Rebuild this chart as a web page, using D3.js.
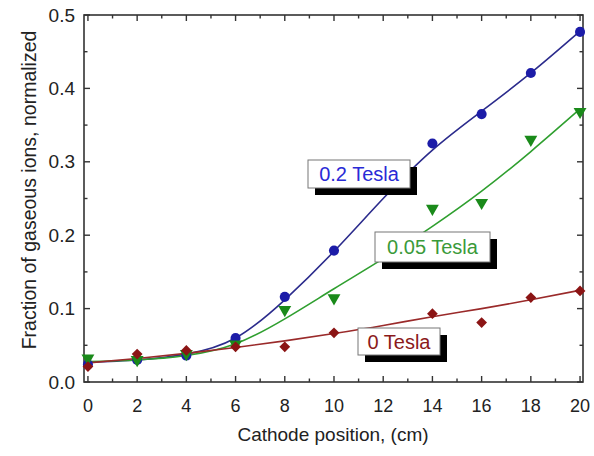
<!DOCTYPE html>
<html><head><meta charset="utf-8">
<script src="https://cdn.jsdelivr.net/npm/d3@7"></script>
<style>body{margin:0;background:#fff}svg{display:block}text{font-family:"Liberation Sans",Arial,sans-serif}</style>
</head><body><svg id="c" width="594" height="456"></svg>
<script>
// Data
const xPos = [0, 2, 4, 6, 8, 10, 14, 16, 18, 20];
const tesla02 = [0.024, 0.030, 0.036, 0.060, 0.116, 0.179, 0.325, 0.365, 0.421, 0.477];
const tesla005 = [0.031, 0.029, 0.037, 0.050, 0.097, 0.113, 0.235, 0.243, 0.329, 0.367];
const tesla0 = [0.021, 0.038, 0.043, 0.048, 0.048, 0.067, 0.093, 0.081, 0.115, 0.124];
const fitX = [0, 2, 4, 6, 8, 10, 12, 14, 16, 18, 20];
const fit02 = [0.027, 0.030, 0.038, 0.060, 0.112, 0.178, 0.250, 0.316, 0.369, 0.421, 0.478];
const fit005 = [0.028, 0.030, 0.036, 0.052, 0.086, 0.127, 0.168, 0.212, 0.260, 0.314, 0.372];
const fit0 = [0.026, 0.032, 0.039, 0.047, 0.056, 0.066, 0.077, 0.089, 0.100, 0.112, 0.125];
const xTicks = [0, 2, 4, 6, 8, 10, 12, 14, 16, 18, 20];
const yTicks = [0.0, 0.1, 0.2, 0.3, 0.4, 0.5];
const seriesNames = ["0.2 Tesla", "0.05 Tesla", "0 Tesla"];

const svg = d3.select("#c");
const L = 84, R = 583, T = 15, B = 382;
const x = d3.scaleLinear().domain([-0.16, 20.12]).range([L, R]);
const y = d3.scaleLinear().domain([0, 0.5]).range([B, T]);

const series = [
  {name: seriesNames[0], pts: tesla02, fit: fit02, pc: "#1c1ca8", lc: "#2b2b8c", tc: "#2a2ad6", sym: d3.symbolCircle, size: 80, rot: 0, dy: 0,
   box: {x: 308, y: 160, w: 102, h: 28}},
  {name: seriesNames[1], pts: tesla005, fit: fit005, pc: "#1a8a1a", lc: "#2f9f2f", tc: "#3a9a3a", sym: d3.symbolTriangle, size: 72, rot: 180, dy: -1,
   box: {x: 375, y: 232, w: 115, h: 30}},
  {name: seriesNames[2], pts: tesla0, fit: fit0, pc: "#8b1414", lc: "#9a2a2a", tc: "#8b1a1a", sym: d3.symbolSquare, size: 58, rot: 45, dy: 0,
   box: {x: 358, y: 328, w: 82, h: 27}}
];

// frame
svg.append("rect").attr("x", L).attr("y", T).attr("width", R - L).attr("height", B - T)
  .attr("fill", "none").attr("stroke", "#333").attr("stroke-width", 1.6);

// ticks
const minorX = d3.range(0, 21, 1);
const minorY = d3.range(0, 0.501, 0.05);
const tk = svg.append("g").attr("stroke", "#333").attr("stroke-width", 1.4);
minorX.forEach(v => {
  const len = v % 2 === 0 ? 6 : 3.5;
  tk.append("line").attr("x1", x(v)).attr("x2", x(v)).attr("y1", B).attr("y2", B - len);
  tk.append("line").attr("x1", x(v)).attr("x2", x(v)).attr("y1", T).attr("y2", T + len);
});
minorY.forEach((v, i) => {
  const len = i % 2 === 0 ? 6 : 3.5;
  tk.append("line").attr("x1", L).attr("x2", L + len).attr("y1", y(v)).attr("y2", y(v));
  tk.append("line").attr("x1", R).attr("x2", R - len).attr("y1", y(v)).attr("y2", y(v));
});

// tick labels
svg.append("g").selectAll("text").data(xTicks).join("text")
  .attr("x", d => x(d)).attr("y", 412).attr("text-anchor", "middle")
  .attr("font-size", 18).attr("fill", "#222").text(d => d);
svg.append("g").selectAll("text").data(yTicks).join("text")
  .attr("x", 75).attr("y", d => y(d) + 6.5).attr("text-anchor", "end")
  .attr("font-size", 19).attr("fill", "#222").text(d => d.toFixed(1));

// axis titles
svg.append("text").attr("x", 333).attr("y", 441).attr("text-anchor", "middle")
  .attr("font-size", 19).attr("fill", "#222").text("Cathode position, (cm)");
svg.append("text").attr("transform", "translate(36,190) rotate(-90)")
  .attr("text-anchor", "middle").attr("font-size", 19.5).attr("fill", "#222")
  .text("Fraction of gaseous ions, normalized");

// curves
const line = d3.line().x((d, i) => x(fitX[i])).y(d => y(d)).curve(d3.curveNatural);
series.forEach(s => {
  svg.append("path").attr("d", line(s.fit)).attr("fill", "none")
    .attr("stroke", s.lc).attr("stroke-width", 1.6);
});

// points
series.forEach(s => {
  svg.append("g").selectAll("path").data(s.pts).join("path")
    .attr("d", d3.symbol().type(s.sym).size(s.size))
    .attr("transform", (d, i) => `translate(${x(xPos[i])},${y(d) + s.dy}) rotate(${s.rot})`)
    .attr("fill", s.pc);
});

// labels
series.forEach(s => {
  const b = s.box;
  svg.append("rect").attr("x", b.x + 7).attr("y", b.y + 7).attr("width", b.w).attr("height", b.h).attr("fill", "#000");
  svg.append("rect").attr("x", b.x).attr("y", b.y).attr("width", b.w).attr("height", b.h)
    .attr("fill", "#fff").attr("stroke", "#777").attr("stroke-width", 1);
  svg.append("text").attr("x", b.x + b.w / 2).attr("y", b.y + b.h / 2 + 7)
    .attr("text-anchor", "middle").attr("font-size", 20).attr("fill", s.tc).text(s.name);
});
</script></body></html>
